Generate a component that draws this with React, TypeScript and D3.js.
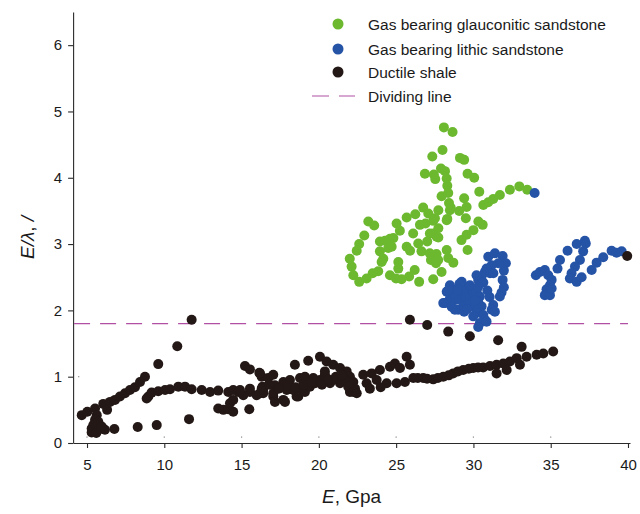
import React, { useEffect, useRef } from "react";
import * as d3 from "d3";

// E (GPa) vs E/lambda
const glauconitic: [number, number][] = [
  [28.09, 4.76], [28.65, 4.69], [28.0, 4.42], [27.34, 4.32], [29.13, 4.3], [29.4, 4.27],
  [26.86, 4.06], [27.44, 4.05], [27.53, 3.98], [27.9, 4.14], [28.16, 4.1], [28.27, 3.99],
  [29.62, 4.06], [30.05, 4.0], [28.31, 3.88], [28.37, 3.77], [27.94, 3.72], [30.38, 3.79],
  [29.4, 3.69], [28.42, 3.62], [28.53, 3.55], [29.56, 3.56], [29.08, 3.5], [30.64, 3.59],
  [30.96, 3.63], [31.28, 3.68], [31.71, 3.74], [32.36, 3.82], [32.97, 3.87], [33.48, 3.82],
  [26.75, 3.55], [27.08, 3.46], [27.4, 3.35], [27.73, 3.51], [26.9, 3.31], [26.24, 3.45],
  [25.68, 3.4], [28.31, 3.38], [29.51, 3.39], [27.73, 3.24], [25.03, 3.31], [25.24, 3.2],
  [23.2, 3.34], [23.58, 3.28], [26.1, 3.16], [27.18, 3.16], [30.32, 3.34], [30.6, 3.29],
  [30.0, 3.21], [29.56, 3.14], [29.23, 3.06], [22.94, 3.13], [22.61, 3.0], [22.45, 2.9],
  [23.95, 3.04], [24.28, 3.05], [24.6, 3.08], [24.82, 3.09], [23.95, 2.89], [24.49, 2.94],
  [24.71, 2.96], [25.68, 2.96], [25.9, 2.9], [26.43, 3.01], [27.01, 3.04], [26.64, 2.89],
  [27.18, 2.86], [27.61, 2.85], [28.27, 2.91], [28.37, 2.79], [28.7, 2.72], [29.62, 2.91],
  [22.0, 2.78], [22.12, 2.66], [22.23, 2.53], [22.61, 2.43], [23.09, 2.48], [23.48, 2.56],
  [23.84, 2.59], [24.06, 2.73], [24.17, 2.78], [25.14, 2.73], [25.14, 2.63], [24.6, 2.53],
  [24.99, 2.48], [25.35, 2.47], [25.84, 2.51], [26.2, 2.61], [26.49, 2.43], [27.25, 2.76],
  [27.58, 2.71], [27.94, 2.58], [27.4, 2.47], [28.48, 3.51], [27.51, 3.39], [28.27, 3.36],
  [27.4, 3.16], [27.62, 3.11], [27.72, 2.76], [26.54, 3.29], [27.73, 3.1],
];

const lithic: [number, number][] = [
  [30.96, 2.81], [31.39, 2.86], [31.89, 2.82], [32.1, 2.71], [31.97, 2.6], [31.61, 2.71],
  [31.18, 2.68], [30.85, 2.63], [30.74, 2.58], [31.07, 2.56], [31.29, 2.56], [30.53, 2.51],
  [30.31, 2.46], [30.64, 2.42], [30.2, 2.53], [31.89, 2.46], [31.97, 2.35], [31.82, 2.27],
  [31.71, 2.21], [31.28, 2.08], [31.18, 2.01], [31.39, 1.98], [28.48, 2.38], [28.27, 2.28],
  [28.59, 2.21], [28.16, 2.11], [28.8, 2.31], [29.24, 2.43], [29.34, 2.36], [29.13, 2.26],
  [29.34, 2.16], [29.56, 2.31], [29.77, 2.38], [29.99, 2.33], [29.88, 2.23], [29.66, 2.13],
  [30.2, 2.28], [30.42, 2.21], [30.31, 2.13], [30.53, 2.06], [29.99, 2.06], [29.34, 2.06],
  [29.02, 2.01], [28.8, 2.01], [30.2, 1.96], [29.99, 1.91], [30.64, 1.93], [30.74, 1.86],
  [30.42, 1.81], [30.31, 1.75], [28.48, 2.18], [28.91, 2.16], [30.85, 1.83], [28.05, 2.11],
  [28.7, 2.25], [29.1, 2.4], [29.5, 2.2], [29.8, 2.1], [30.1, 2.15], [29.4, 1.98],
  [28.6, 2.05], [29.0, 2.32], [30.3, 2.35], [30.9, 2.3], [31.05, 2.2], [28.35, 2.3],
  [29.6, 2.02],
  [34.04, 2.53], [34.3, 2.58], [34.62, 2.61], [34.84, 2.53], [35.06, 2.46], [34.95, 2.38],
  [34.73, 2.32], [34.62, 2.23], [34.95, 2.23], [35.06, 2.33], [35.44, 2.63], [35.6, 2.76],
  [36.09, 2.9], [36.68, 3.0], [37.21, 3.05], [37.27, 3.01], [37.1, 2.89], [36.89, 2.76],
  [36.57, 2.66], [36.35, 2.56], [36.24, 2.48], [36.68, 2.43], [37.0, 2.5], [37.65, 2.61],
  [37.97, 2.72], [38.4, 2.8], [38.94, 2.9], [39.59, 2.89], [39.26, 2.87], [33.96, 3.77],
];

const shale: [number, number][] = [
  [4.66, 0.42], [5.02, 0.47], [5.52, 0.52], [5.63, 0.42], [5.52, 0.35], [5.73, 0.32],
  [5.3, 0.22], [5.52, 0.2], [5.73, 0.2], [6.16, 0.2], [5.41, 0.27], [5.95, 0.25],
  [5.3, 0.16], [5.6, 0.15], [6.77, 0.21], [8.28, 0.24], [9.51, 0.27], [11.6, 0.36],
  [6.05, 0.59], [6.49, 0.62], [6.81, 0.65], [7.13, 0.7], [7.46, 0.75], [7.78, 0.8],
  [8.1, 0.84], [8.43, 0.92], [8.75, 1.0], [9.61, 1.19], [10.84, 1.46], [11.77, 1.86],
  [8.97, 0.7], [8.86, 0.67], [9.18, 0.76], [9.61, 0.78], [10.05, 0.8], [10.37, 0.81],
  [10.91, 0.85], [11.34, 0.85], [11.77, 0.81], [12.42, 0.8], [12.96, 0.77], [13.49, 0.79],
  [14.14, 0.77], [14.79, 0.77], [15.11, 0.72], [15.54, 0.77], [16.19, 0.75],
  [13.49, 0.52], [13.82, 0.5], [14.14, 0.51], [14.46, 0.47], [14.25, 0.6], [14.46, 0.65],
  [15.5, 0.51], [15.22, 1.16], [15.54, 1.11], [16.15, 1.06], [16.3, 1.0], [16.73, 0.98],
  [16.36, 0.85], [16.4, 0.75], [15.98, 0.72], [14.46, 0.8], [14.9, 0.8], [15.54, 0.82],
  [16.4, 0.8], [17.05, 0.7], [17.7, 0.65], [18.56, 0.7], [17.81, 0.62], [18.67, 0.7],
  [16.19, 1.05], [16.3, 0.82], [17.05, 1.03], [17.16, 0.87], [17.05, 0.75], [17.16, 0.62],
  [17.7, 0.92], [18.13, 0.95], [18.45, 1.18], [19.31, 1.24], [17.92, 0.8], [18.34, 0.8],
  [18.78, 0.77], [19.1, 0.77], [19.42, 0.85], [19.75, 0.9], [20.07, 0.95], [20.39, 1.03],
  [20.72, 0.9], [18.78, 0.98], [19.1, 1.0], [19.64, 0.98], [20.07, 1.3], [20.5, 1.23],
  [20.93, 1.18], [21.37, 1.13], [21.8, 1.08], [22.01, 1.0], [22.23, 0.92], [22.34, 0.82],
  [22.01, 0.77], [21.37, 0.9], [20.93, 0.95], [20.39, 1.08], [21.69, 0.95], [21.9, 0.85],
  [22.23, 0.77], [22.45, 0.75], [22.87, 1.03], [23.09, 0.9], [23.42, 1.05], [23.95, 1.1],
  [23.74, 0.95], [24.39, 0.9], [24.6, 1.15], [24.92, 1.2], [25.25, 1.13], [25.68, 1.3],
  [25.89, 1.18], [25.03, 0.9], [25.57, 0.92], [26.11, 0.98], [26.75, 0.98], [27.4, 0.96],
  [28.05, 1.0], [28.69, 1.05], [29.34, 1.1], [29.99, 1.13], [30.63, 1.14], [31.07, 1.16],
  [31.5, 1.18], [31.93, 1.2], [32.36, 1.23], [32.8, 1.28], [33.44, 1.3], [34.09, 1.33],
  [34.52, 1.35], [35.16, 1.38], [31.5, 1.05], [32.15, 1.1], [33.01, 1.18], [33.12, 1.45],
  [31.6, 1.55], [29.77, 1.61], [28.37, 1.68], [25.89, 1.86], [27.01, 1.78], [39.95, 2.82],
  [16.8, 0.88], [17.4, 0.82], [18.0, 0.86], [18.5, 0.84], [19.0, 0.88], [19.5, 0.92],
  [20.2, 0.88], [20.6, 0.96], [21.1, 1.0], [21.5, 1.02], [23.3, 0.82], [24.0, 0.84],
  [26.4, 0.98], [27.0, 0.97], [27.7, 0.98], [28.4, 1.02], [29.0, 1.08], [29.7, 1.12],
  [30.3, 1.14], [6.3, 0.5],
];

const xTicks = [5, 10, 15, 20, 25, 30, 35, 40];
const yTicks = [0, 1, 2, 3, 4, 5, 6];
const dividingValue = 1.8;
const legendLabels = [
  "Gas bearing glauconitic sandstone",
  "Gas bearing lithic sandstone",
  "Ductile shale",
  "Dividing line",
];
const colors = ["#6cb92f", "#2553a6", "#231815"];
const lineColor = "#b04fa4";
const font = "'Liberation Sans', Arial, sans-serif";

export default function App() {
  const ref = useRef<SVGSVGElement>(null);

  useEffect(() => {
    const svg = d3.select(ref.current);
    svg.selectAll("*").remove();

    const x = d3.scaleLinear().domain([4.1, 40.13]).range([73.1, 630]);
    const y = d3.scaleLinear().domain([0, 6.5]).range([443, 12]);

    // axes
    const xAxis = d3.axisBottom(x).tickValues(xTicks).tickFormat(d3.format("d"))
      .tickSize(5).tickSizeOuter(0).tickPadding(11);
    const yAxis = d3.axisLeft(y).tickValues(yTicks).tickFormat(d3.format("d"))
      .tickSize(5).tickSizeOuter(0).tickPadding(6);

    const xg = svg.append("g").attr("transform", `translate(0,${y(0)})`).call(xAxis);
    const yg = svg.append("g").attr("transform", `translate(${x(4.1)},0)`).call(yAxis);
    [xg, yg].forEach((g) => {
      g.attr("font-family", font).attr("font-size", 15);
      g.selectAll("path, line").attr("stroke", "#2a2a2a").attr("stroke-width", 1.1);
      g.selectAll("text").attr("fill", "#1a1a1a");
    });

    // tiny inner tick marks
    svg.append("g")
      .selectAll("rect")
      .data(xTicks.slice(0, 7))
      .enter()
      .append("rect")
      .attr("x", (d) => x(d) - 0.6)
      .attr("y", y(0) - 6.5)
      .attr("width", 1.2)
      .attr("height", 1.2)
      .attr("fill", "#888");
    svg.append("rect")
      .attr("x", x(4.1) + 5)
      .attr("y", y(1) - 0.6)
      .attr("width", 1.2)
      .attr("height", 1.2)
      .attr("fill", "#888");

    // dividing line
    svg.append("line")
      .attr("x1", x(4.1) + 1)
      .attr("x2", x(40))
      .attr("y1", y(dividingValue))
      .attr("y2", y(dividingValue))
      .attr("stroke", lineColor)
      .attr("stroke-width", 1.2)
      .attr("stroke-dasharray", "16,10");

    // points
    const series = [glauconitic, lithic, shale];
    series.forEach((pts, i) => {
      svg.append("g")
        .selectAll("circle")
        .data(pts)
        .enter()
        .append("circle")
        .attr("cx", (d) => x(d[0]))
        .attr("cy", (d) => y(d[1]))
        .attr("r", 5)
        .attr("fill", colors[i]);
    });

    // axis titles
    const xt = svg.append("text")
      .attr("x", (x(4.1) + x(40.13)) / 2)
      .attr("y", 503)
      .attr("text-anchor", "middle")
      .attr("font-family", font)
      .attr("font-size", 19)
      .attr("fill", "#1a1a1a");
    xt.append("tspan").attr("font-style", "italic").text("E");
    xt.append("tspan").text(", Gpa");

    const yt = svg.append("text")
      .attr("transform", `translate(34,${y(3.1)}) rotate(-90)`)
      .attr("text-anchor", "middle")
      .attr("font-family", font)
      .attr("font-size", 19)
      .attr("fill", "#1a1a1a");
    yt.append("tspan").attr("font-style", "italic").text("E/λ");
    yt.append("tspan").text(", ");
    yt.append("tspan").attr("font-style", "italic").text("/");

    // legend
    const legendY = [24, 49, 72, 96];
    const lg = svg.append("g").attr("font-family", font).attr("font-size", 15.5);
    colors.forEach((c, i) => {
      lg.append("circle").attr("cx", 338).attr("cy", legendY[i]).attr("r", 5.5).attr("fill", c);
    });
    lg.append("line")
      .attr("x1", 312)
      .attr("x2", 355)
      .attr("y1", legendY[3])
      .attr("y2", legendY[3])
      .attr("stroke", lineColor)
      .attr("stroke-width", 1.2)
      .attr("stroke-dasharray", "17,10");
    legendLabels.forEach((t, i) => {
      lg.append("text")
        .attr("x", 368)
        .attr("y", legendY[i])
        .attr("dy", "0.36em")
        .attr("fill", "#1a1a1a")
        .text(t);
    });
  }, []);

  return (
    <svg
      ref={ref}
      width={640}
      height={514}
      style={{ position: "absolute", left: 0, top: 0, background: "#fff" }}
    />
  );
}
